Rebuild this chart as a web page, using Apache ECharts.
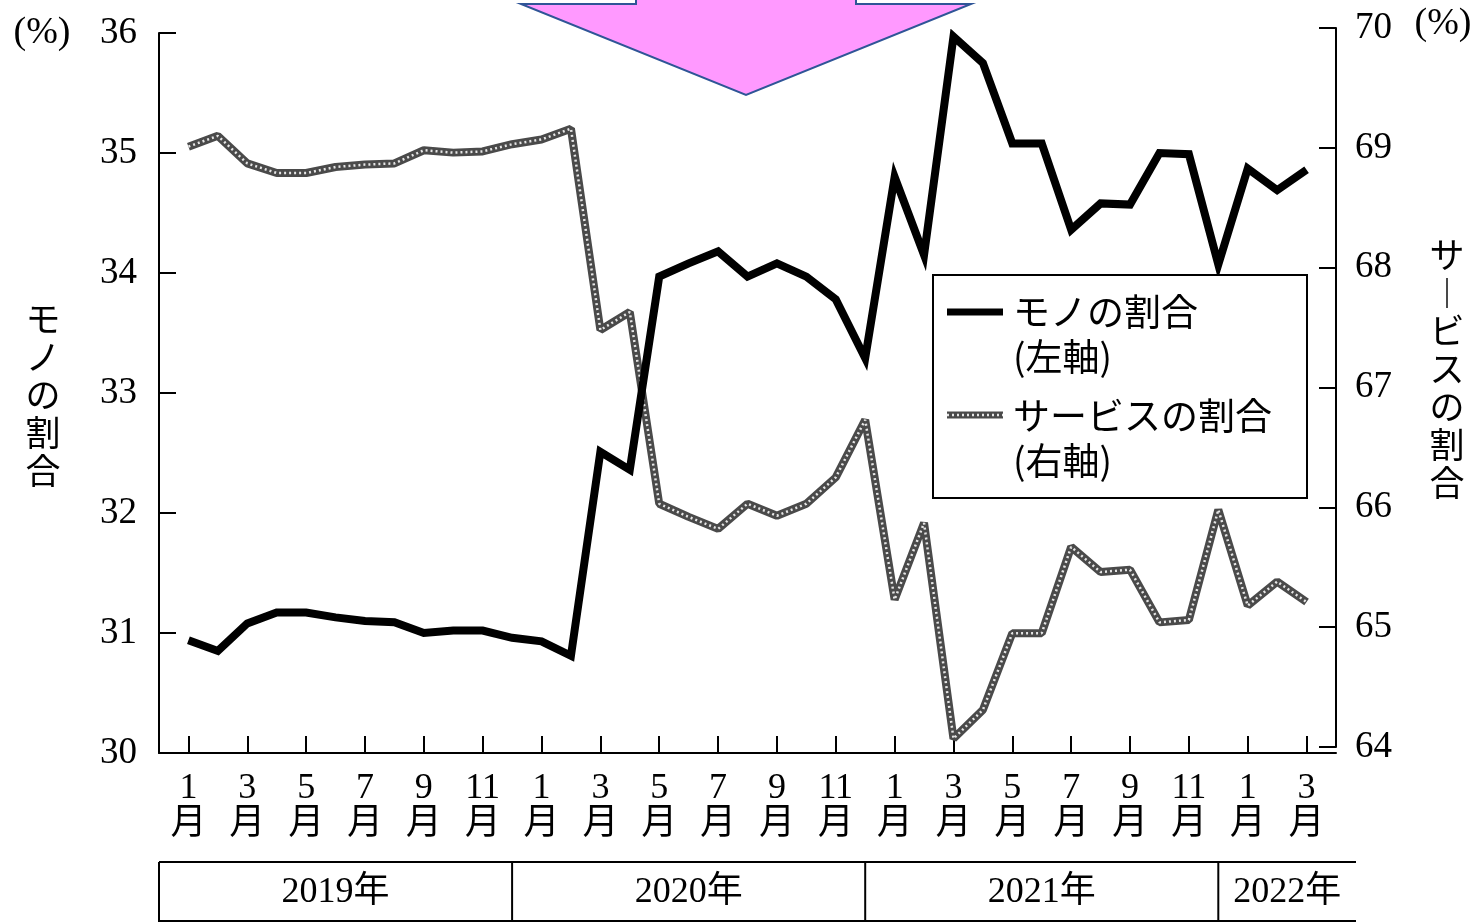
<!DOCTYPE html>
<html>
<head>
<meta charset="utf-8">
<script src="https://cdn.jsdelivr.net/npm/echarts@6/dist/echarts.min.js"></script>
<style>
  html, body { margin: 0; padding: 0; background: #fff; }
  #main { width: 1476px; height: 922px; }
</style>
</head>
<body>
<div id="main"></div>
<script>
// month number of each point, Jan 2019 .. Mar 2022
var months = [1,2,3,4,5,6,7,8,9,10,11,12,
              1,2,3,4,5,6,7,8,9,10,11,12,
              1,2,3,4,5,6,7,8,9,10,11,12,
              1,2,3];
var years = ['2019年', '2020年', '2021年', '2022年'];

// モノの割合 (left axis, %)
var monoShare = [30.94, 30.85, 31.08, 31.17, 31.17, 31.13, 31.10, 31.09, 31.00, 31.02, 31.02, 30.96,
                 30.93, 30.81, 32.51, 32.36, 33.97, 34.08, 34.18, 33.97, 34.08, 33.97, 33.78, 33.29,
                 34.80, 34.15, 35.97, 35.75, 35.08, 35.08, 34.36, 34.58, 34.57, 35.00, 34.99, 34.07,
                 34.87, 34.69, 34.86];
// サービスの割合 (right axis, %)
var serviceShare = [69.01, 69.10, 68.87, 68.79, 68.79, 68.84, 68.86, 68.87, 68.98, 68.96, 68.97, 69.03,
                    69.07, 69.16, 67.48, 67.63, 66.03, 65.92, 65.82, 66.03, 65.93, 66.03, 66.25, 66.73,
                    65.23, 65.87, 64.07, 64.31, 64.95, 64.95, 65.67, 65.46, 65.48, 65.04, 65.06, 65.98,
                    65.18, 65.38, 65.21];

var SERIF = "'Liberation Serif', 'Noto Sans CJK JP', serif";
var SANS = "'Noto Sans CJK JP', sans-serif";

var chart = echarts.init(document.getElementById('main'));

var tickIdx = months.map(function (m, i) { return i; }).filter(function (i) { return i % 2 === 0; });
var monoData = monoShare.map(function (v, i) { return [i, v]; });
var serviceData = serviceShare.map(function (v, i) { return [i, v]; });

var option = {
  animation: false,
  backgroundColor: '#fff',
  grid: [
    { left: 159, right: 140, top: 33, bottom: 169 },
    { left: 159, right: 140, top: 28, bottom: 175 }
  ],
  xAxis: [{
    type: 'value',
    gridIndex: 0,
    min: -1,
    max: 39,
    splitLine: { show: false },
    axisLine: { onZero: false, lineStyle: { color: '#000', width: 2 } },
    axisTick: { inside: true, length: 17, customValues: tickIdx, lineStyle: { color: '#000', width: 2 } },
    axisLabel: {
      customValues: tickIdx,
      formatter: function (v) { return months[v] + '\n月'; },
      fontSize: 36,
      lineHeight: 36,
      color: '#000',
      fontFamily: SERIF,
      margin: 18
    }
  }, {
    type: 'value',
    gridIndex: 1,
    min: -1,
    max: 39,
    show: false
  }],
  yAxis: [{
    type: 'value',
    gridIndex: 0,
    min: 30,
    max: 36,
    interval: 1,
    axisLine: { show: true, onZero: false, lineStyle: { color: '#000', width: 2 } },
    axisTick: { show: true, inside: true, length: 17, lineStyle: { color: '#000', width: 2 } },
    axisLabel: { fontSize: 37, color: '#000', fontFamily: SERIF, margin: 22 },
    splitLine: { show: false }
  }, {
    type: 'value',
    gridIndex: 1,
    position: 'right',
    min: 64,
    max: 70,
    interval: 1,
    axisLine: { show: true, onZero: false, lineStyle: { color: '#000', width: 2 } },
    axisTick: { show: true, inside: true, length: 17, lineStyle: { color: '#000', width: 2 } },
    axisLabel: { fontSize: 37, color: '#000', fontFamily: SERIF, margin: 19 },
    splitLine: { show: false }
  }],
  series: [{
    name: 'サービスの割合',
    type: 'line',
    xAxisIndex: 1,
    yAxisIndex: 1,
    data: serviceData,
    showSymbol: false,
    lineStyle: { color: '#4a4a4a', width: 8 },
    z: 2
  }, {
    name: 'サービスの割合',
    type: 'line',
    xAxisIndex: 1,
    yAxisIndex: 1,
    data: serviceData,
    showSymbol: false,
    lineStyle: { color: '#e6e6e6', width: 2.5, type: [2, 3] },
    z: 3
  }, {
    name: 'モノの割合',
    type: 'line',
    xAxisIndex: 0,
    yAxisIndex: 0,
    data: monoData,
    showSymbol: false,
    lineStyle: { color: '#000', width: 8, join: 'miter' },
    z: 4
  }]
};
chart.setOption(option);

// year band under the axis, one cell per 12 months starting at the axis' left edge
var yTop = 862, yBot = 922;
var edges = [];
for (var k = 0; k < years.length; k++) {
  edges.push(chart.convertToPixel({ xAxisIndex: 0 }, -1 + 12 * k));
}
var tableRight = 1356;
var g = [];
g.push({ type: 'line', shape: { x1: edges[0], y1: yTop, x2: tableRight, y2: yTop }, style: { stroke: '#000', lineWidth: 2 } });
g.push({ type: 'line', shape: { x1: edges[0], y1: yBot - 1, x2: tableRight, y2: yBot - 1 }, style: { stroke: '#000', lineWidth: 2 } });
years.forEach(function (y, k) {
  var x0 = edges[k];
  var x1 = k + 1 < edges.length ? edges[k + 1] : tableRight;
  g.push({ type: 'line', shape: { x1: x0, y1: yTop, x2: x0, y2: yBot }, style: { stroke: '#000', lineWidth: 2 } });
  g.push({
    type: 'text', x: (x0 + x1) / 2, y: 893,
    style: { text: y, font: '36px ' + SERIF, fill: '#000', align: 'center', verticalAlign: 'middle' }
  });
});

// unit marks and vertical axis names
g.push({ type: 'text', x: 42, y: 33, style: { text: '(%)', font: '38px ' + SERIF, fill: '#000', align: 'center', verticalAlign: 'middle' } });
g.push({ type: 'text', x: 1443, y: 24, style: { text: '(%)', font: '38px ' + SERIF, fill: '#000', align: 'center', verticalAlign: 'middle' } });
g.push({ type: 'text', x: 43, y: 300, style: { text: 'モ\nノ\nの\n割\n合', font: '35px ' + SANS, lineHeight: 38, fill: '#000', align: 'center', verticalAlign: 'top' } });
g.push({ type: 'text', x: 1447, y: 236, style: { text: 'サ\n︱\nビ\nス\nの\n割\n合', font: '35px ' + SANS, lineHeight: 38, fill: '#000', align: 'center', verticalAlign: 'top' } });

// legend box
g.push({ type: 'rect', shape: { x: 933, y: 275, width: 374, height: 223 }, style: { fill: '#fff', stroke: '#000', lineWidth: 2 }, z: 10 });
g.push({ type: 'line', shape: { x1: 947, y1: 312, x2: 1003, y2: 312 }, style: { stroke: '#000', lineWidth: 7 }, z: 11 });
g.push({ type: 'line', shape: { x1: 947, y1: 415, x2: 1003, y2: 415 }, style: { stroke: '#4a4a4a', lineWidth: 7 }, z: 11 });
g.push({ type: 'line', shape: { x1: 947, y1: 415, x2: 1003, y2: 415 }, style: { stroke: '#e6e6e6', lineWidth: 2.5, lineDash: [2, 3] }, z: 12 });
[['モノの割合', 312], ['(左軸)', 357], ['サービスの割合', 416], ['(右軸)', 461]].forEach(function (t) {
  g.push({ type: 'text', x: 1013, y: t[1], style: { text: t[0], font: '37px ' + SANS, fill: '#000', align: 'left', verticalAlign: 'middle' }, z: 11 });
});

// pink arrow at the top
g.push({
  type: 'polygon',
  shape: { points: [[636, -10], [636, 4], [521, 4], [746, 95], [971, 4], [856, 4], [856, -10]] },
  style: { fill: '#ff99ff', stroke: '#2f5597', lineWidth: 2 },
  z: 20
});

chart.setOption({ graphic: g });
</script>
</body>
</html>
